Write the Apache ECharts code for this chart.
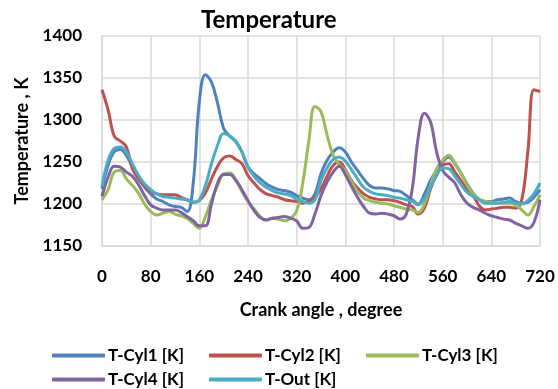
<!DOCTYPE html>
<html>
<head>
<meta charset="utf-8">
<title>Temperature</title>
<script src="https://cdn.jsdelivr.net/npm/echarts@6/dist/echarts.min.js"></script>
<style>
  html, body { margin: 0; padding: 0; background: #fff; }
  #chart { width: 558px; height: 389px; }
</style>
</head>
<body>
<div id="chart"></div>
<script>
// crank angle, degree
const crankAngle = [
  0, 10, 20, 30, 40, 50, 60, 70, 80, 90,
  100, 110, 120, 130, 140, 150, 160, 170, 180, 190,
  200, 210, 220, 230, 240, 250, 260, 270, 280, 290,
  300, 310, 320, 330, 340, 350, 360, 370, 380, 390,
  400, 410, 420, 430, 440, 450, 460, 470, 480, 490,
  500, 510, 520, 530, 540, 550, 560, 570, 580, 590,
  600, 610, 620, 630, 640, 650, 660, 670, 680, 690,
  700, 710, 720
];

// temperatures, K
const tCyl1 = [
  1218, 1246, 1262, 1265, 1258, 1244, 1230, 1220, 1212, 1206,
  1203, 1199, 1197, 1196, 1191, 1225, 1322, 1354, 1345, 1320,
  1290, 1281, 1274, 1262, 1244, 1236, 1230, 1224, 1220, 1217,
  1216, 1214, 1210, 1207, 1205, 1212, 1236, 1252, 1262, 1267,
  1262, 1250, 1240, 1230, 1222, 1219, 1219, 1218, 1216, 1215,
  1210, 1205, 1200, 1212, 1228, 1240, 1250, 1256, 1248, 1237,
  1224, 1213, 1205, 1203, 1203, 1205, 1206, 1207, 1203, 1201,
  1202, 1208, 1217
];
const tCyl2 = [
  1336, 1312, 1281, 1275, 1268, 1242, 1230, 1222, 1215, 1212,
  1211, 1211, 1211, 1208, 1205, 1202, 1204, 1213, 1230, 1245,
  1255, 1257, 1253, 1248, 1234, 1225, 1217, 1212, 1210, 1208,
  1205, 1204, 1203, 1201, 1203, 1208, 1218, 1233, 1246, 1250,
  1241, 1228, 1219, 1212, 1208, 1206, 1205, 1205, 1204, 1202,
  1199, 1197, 1188, 1195, 1218, 1235, 1246, 1248, 1238, 1228,
  1217, 1210, 1198, 1193, 1194, 1195, 1196, 1196, 1195, 1205,
  1262, 1336, 1334
];
const tCyl3 = [
  1205, 1217, 1238, 1240, 1230, 1222, 1213, 1200, 1191, 1187,
  1189, 1191, 1188, 1186, 1183, 1177, 1171, 1185, 1205, 1222,
  1236, 1237, 1229, 1215, 1203, 1194, 1185, 1181, 1183, 1182,
  1180, 1183, 1192, 1225, 1275, 1316, 1310, 1282, 1258, 1247,
  1240, 1227, 1215, 1207, 1204, 1202, 1201, 1200, 1198, 1196,
  1194, 1193, 1190, 1200, 1222, 1242, 1252, 1258, 1249, 1237,
  1223, 1212, 1206, 1203, 1202, 1201, 1201, 1201, 1199, 1193,
  1187, 1197, 1211
];
const tCyl4 = [
  1209, 1232, 1245, 1244, 1238, 1233, 1223, 1210, 1199, 1195,
  1193, 1193, 1193, 1190, 1185, 1180, 1174, 1174, 1200, 1225,
  1235, 1235, 1228, 1217, 1204, 1192, 1184, 1181, 1183, 1184,
  1185, 1183, 1180, 1171, 1172, 1188, 1210, 1226, 1238, 1245,
  1235, 1221, 1208, 1197, 1189, 1188, 1189, 1188, 1186, 1182,
  1188, 1218, 1280, 1308, 1298, 1262, 1240, 1232, 1225, 1211,
  1201, 1196, 1193, 1189, 1186, 1184, 1182, 1181, 1177, 1174,
  1171, 1178, 1205
];
const tOut = [
  1221, 1252, 1266, 1268, 1262, 1248, 1234, 1224, 1217, 1212,
  1209, 1208, 1207, 1206, 1205, 1202, 1205, 1222, 1248, 1270,
  1284, 1281, 1275, 1262, 1244, 1233, 1225, 1220, 1216, 1213,
  1212, 1210, 1206, 1203, 1201, 1205, 1228, 1243, 1253, 1256,
  1251, 1241, 1230, 1220, 1215, 1212, 1211, 1210, 1208, 1207,
  1205, 1203, 1199, 1207, 1220, 1234, 1243, 1242, 1233, 1223,
  1214, 1209, 1205, 1201, 1201, 1201, 1202, 1203, 1201, 1200,
  1204, 1212, 1225
];

const seriesNames = ["T-Cyl1 [K]", "T-Cyl2 [K]", "T-Cyl3 [K]", "T-Cyl4 [K]", "T-Out [K]"];
const seriesValues = [tCyl1, tCyl2, tCyl3, tCyl4, tOut];
const seriesColors = ["#4F81BD", "#C0504D", "#9BBB59", "#8064A2", "#4BACC6"];

const font = "Lato, 'Open Sans', sans-serif";

const chart = echarts.init(document.getElementById("chart"));

const legendBase = {
  left: 47,
  icon: "roundRect",
  itemWidth: 53,
  itemHeight: 4,
  itemGap: 25,
  textStyle: { fontFamily: font, fontWeight: "bold", fontSize: 17, color: "#000", padding: [0, 0, 0, -2] },
};

const options = {
  animation: false,
  title: {
    text: "Temperature",
    left: 196,
    top: 3,
    textStyle: { fontFamily: font, fontWeight: "bold", fontSize: 24, color: "#000" },
  },
  legend: [
    Object.assign({}, legendBase, { top: 342, data: seriesNames.slice(0, 3) }),
    Object.assign({}, legendBase, { top: 366, data: seriesNames.slice(3) }),
  ],
  grid: { left: 102, right: 18, top: 36, bottom: 143 },
  xAxis: {
    type: "value",
    min: 0,
    max: 720,
    interval: 80,
    name: "Crank angle , degree",
    nameLocation: "middle",
    nameGap: 55,
    nameTextStyle: { fontFamily: font, fontWeight: "bold", fontSize: 18, color: "#000" },
    axisLine: { lineStyle: { color: "#d9d9d9", width: 1.5 } },
    axisTick: { show: false },
    axisLabel: { margin: 22, fontFamily: font, fontWeight: "bold", fontSize: 17, color: "#000" },
    splitLine: { show: true, lineStyle: { color: "#d9d9d9", width: 1.5 } },
  },
  yAxis: {
    type: "value",
    min: 1150,
    max: 1400,
    interval: 50,
    name: "Temperature , K",
    nameLocation: "middle",
    nameGap: 67,
    nameTextStyle: { fontFamily: font, fontWeight: "bold", fontSize: 18, color: "#000" },
    axisLine: { show: true, lineStyle: { color: "#d9d9d9", width: 1.5 } },
    axisTick: { show: false },
    axisLabel: {
      margin: 20,
      fontFamily: font,
      fontWeight: "bold",
      fontSize: 17,
      color: "#000",
      formatter: (v) => String(v),
    },
    splitLine: { lineStyle: { color: "#d9d9d9", width: 1.5 } },
  },
  series: seriesNames.map((name, i) => ({
    name: name,
    type: "line",
    smooth: 0.4,
    symbol: "none",
    data: crankAngle.map((a, j) => [a, seriesValues[i][j]]),
    lineStyle: { color: seriesColors[i], width: 3 },
    itemStyle: { color: seriesColors[i] },
  })),
};

chart.setOption(options);
</script>
</body>
</html>
